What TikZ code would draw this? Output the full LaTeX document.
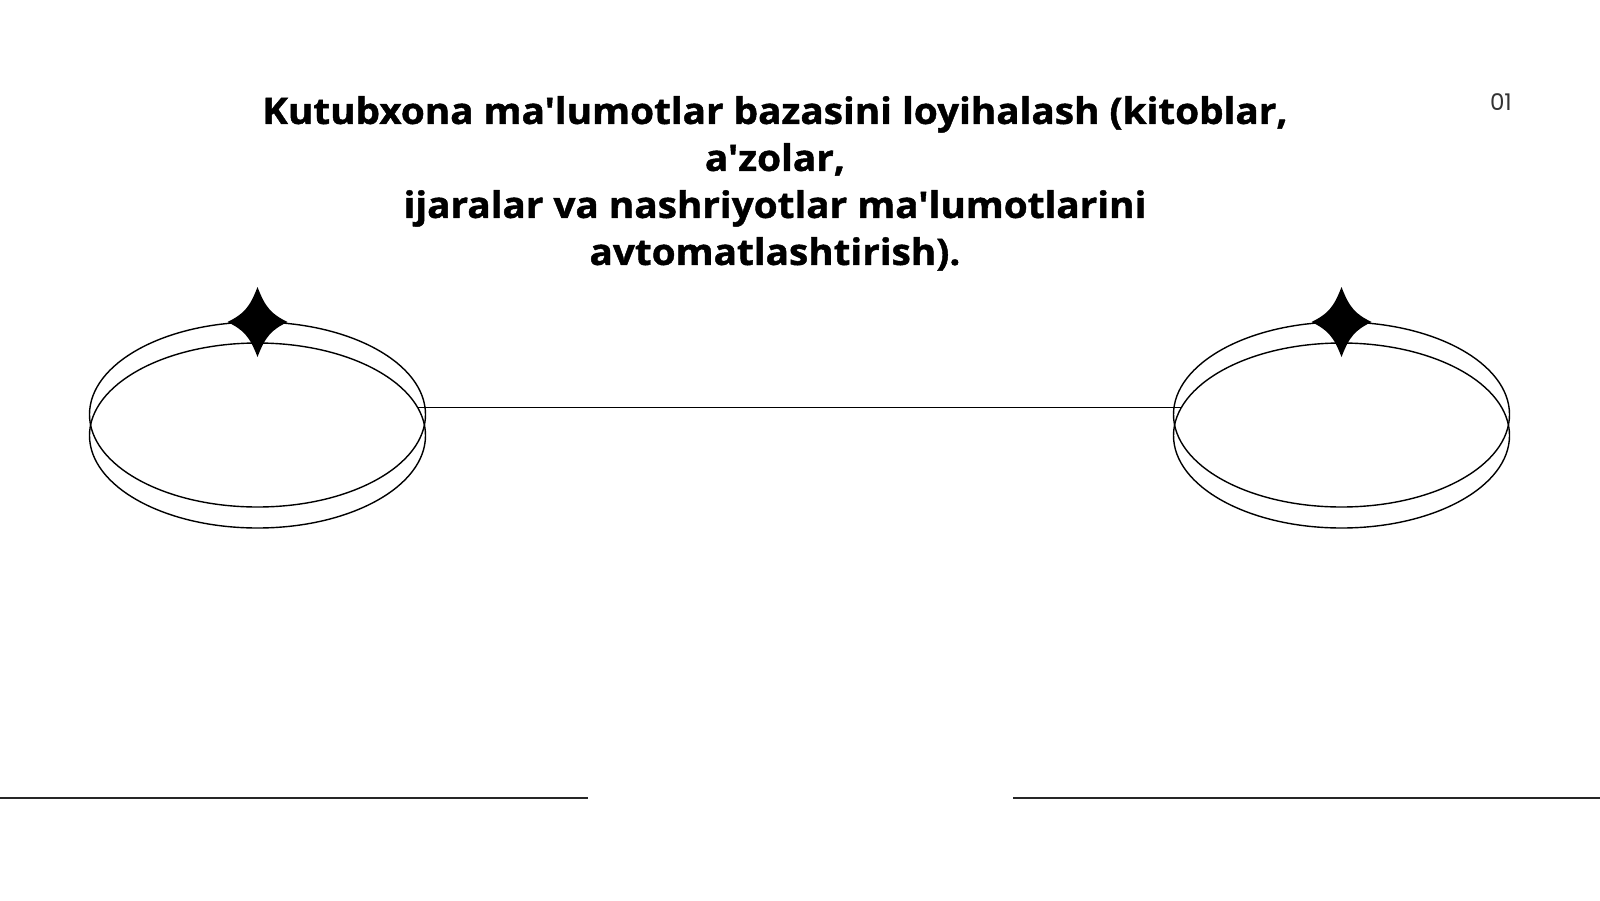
\documentclass[tikz,border=0pt]{standalone}
\usepackage{fontspec}
\newfontfamily\titlefont[FakeStretch=1.06,FakeBold=1.2]{Open Sans}
\newfontfamily\pagefont{Poppins}
\usetikzlibrary{shapes.geometric}
\newcommand{\ringgap}{21}

\begin{document}
\begin{tikzpicture}[x=1pt,y=-1pt,
  ring/.style={draw,ellipse,line width=1.4pt,inner sep=0pt,outer sep=0pt,minimum width=336pt,minimum height=185pt},
  rule/.style={line width=1.8pt,draw=black!85},
  sparkle/.pic={
    \fill (0,-35) .. controls (8,-14) and (14,-8) .. (30,0)
      .. controls (14,8) and (8,14) .. (0,35)
      .. controls (-8,14) and (-14,8) .. (-30,0)
      .. controls (-14,-8) and (-8,-14) .. cycle;
  }]
  \useasboundingbox[fill=white] (0,0) rectangle (1600,900);

  \node[font=\titlefont\bfseries\fontsize{36.5}{47}\selectfont,align=center,anchor=north,inner sep=0pt] (title) at (775,96)
    {Kutubxona ma'lumotlar bazasini loyihalash (kitoblar,\\a'zolar,\\ijaralar va nashriyotlar ma'lumotlarini\\avtomatlashtirish).};
  \node[font=\pagefont\fontsize{23}{27}\selectfont,text=black!80,anchor=east,inner sep=0pt] (page) at (1512,102) {01};

  \foreach \side/\cx in {left/257.5,right/1341.5} {
    \node[ring] (\side A) at (\cx,414.5) {};
    \node[ring] (\side B) at (\cx,414.5+\ringgap) {};
    \pic at (\side A.north) {sparkle};
  }
  \draw[line width=1.3pt] (leftB.10) -- (rightB.170);

  \coordinate (ruleL) at (0,798);
  \coordinate (ruleR) at (1600,798);
  \draw[rule] (ruleL) -- ++(588,0);
  \draw[rule] (ruleR) -- ++(-587,0);
\end{tikzpicture}
\end{document}
